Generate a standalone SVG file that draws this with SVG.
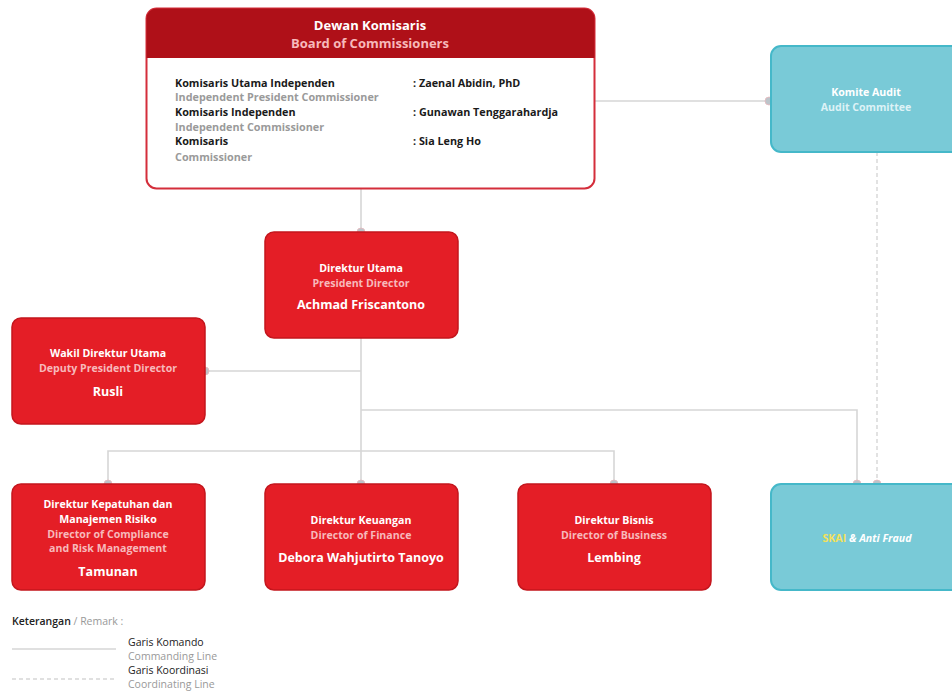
<svg xmlns="http://www.w3.org/2000/svg" width="952" height="694" viewBox="0 0 952 694">
<style>
text{font-family:"Open Sans","Liberation Sans",sans-serif;font-weight:bold}
.red{fill:#E41E26;stroke:#C4161D;stroke-width:1.5}
.cyan{fill:#79CAD7;stroke:#45B8C9;stroke-width:2}
.w{fill:#FFFFFF;font-size:10.6px;text-anchor:middle}
.p{fill:#F7B9BB;font-size:10.6px;text-anchor:middle}
.n{fill:#FFFFFF;font-size:12.5px;text-anchor:middle}
.k{fill:#1A1A1A;font-size:10.8px}
.g{fill:#9A9A9A;font-size:10.8px}
.ln{stroke:#D6D6D6;stroke-width:1.6;fill:none}
.dl{stroke:#D6D6D6;stroke-width:1.4;fill:none;stroke-dasharray:4 3}
.dot{fill:#BCC4CA;stroke:#E8B9BE;stroke-width:0.8}
.lg{font-weight:normal;font-size:10.5px}
</style>
<rect width="952" height="694" fill="#FFFFFF"/>
<g id="connectors">
<line class="ln" x1="361" y1="189" x2="361" y2="232"/>
<line class="ln" x1="595" y1="101" x2="770" y2="101"/>
<line class="ln" x1="361" y1="338" x2="361" y2="451"/>
<line class="ln" x1="205" y1="371" x2="361" y2="371"/>
<polyline class="ln" points="361,410 857,410 857,484"/>
<polyline class="ln" points="108,484 108,451 614,451 614,484"/>
<line class="ln" x1="361" y1="451" x2="361" y2="484"/>
<line class="dl" x1="877" y1="152" x2="877" y2="484"/>
<circle class="dot" cx="361" cy="232" r="4"/>
<circle class="dot" cx="769" cy="101" r="4"/>
<circle class="dot" cx="205" cy="371" r="4"/>
<circle class="dot" cx="108" cy="484" r="4"/>
<circle class="dot" cx="361" cy="484" r="4"/>
<circle class="dot" cx="614" cy="484" r="4"/>
<circle class="dot" cx="857" cy="484" r="4"/>
<circle class="dot" cx="877" cy="484" r="4"/>
</g>
<g id="board">
<rect x="146.5" y="8.5" width="448" height="180" rx="10" fill="#FFFFFF" stroke="#D42E3B" stroke-width="2"/>
<path d="M146.5,58 V18.5 A10,10 0 0 1 156.5,8.5 H584.5 A10,10 0 0 1 594.5,18.5 V58 Z" fill="#AF1018"/>
<text class="w" x="370" y="30" style="font-size:13px">Dewan Komisaris</text>
<text class="p" x="370" y="48" style="font-size:13px">Board of Commissioners</text>
<text class="k" x="175" y="87">Komisaris Utama Independen</text>
<text class="g" x="175" y="101">Independent President Commissioner</text>
<text class="k" x="175" y="116">Komisaris Independen</text>
<text class="g" x="175" y="131">Independent Commissioner</text>
<text class="k" x="175" y="145">Komisaris</text>
<text class="g" x="175" y="161">Commissioner</text>
<text class="k" x="413" y="87">: Zaenal Abidin, PhD</text>
<text class="k" x="413" y="116">: Gunawan Tenggarahardja</text>
<text class="k" x="413" y="145">: Sia Leng Ho</text>
</g>
<g id="audit">
<rect class="cyan" x="771" y="46" width="195" height="106" rx="10"/>
<text class="w" x="866" y="96">Komite Audit</text>
<text class="w" x="866" y="111" style="fill:#DDF2F6">Audit Committee</text>
</g>
<g id="dirut">
<rect class="red" x="265" y="232" width="193" height="106" rx="9"/>
<text class="w" x="361" y="272">Direktur Utama</text>
<text class="p" x="361" y="287">President Director</text>
<text class="n" x="361" y="309">Achmad Friscantono</text>
</g>
<g id="wadirut">
<rect class="red" x="12" y="318" width="193" height="106" rx="9"/>
<text class="w" x="108" y="357">Wakil Direktur Utama</text>
<text class="p" x="108" y="372">Deputy President Director</text>
<text class="n" x="108" y="396">Rusli</text>
</g>
<g id="kepatuhan">
<rect class="red" x="12" y="484" width="193" height="106" rx="9"/>
<text class="w" x="108" y="508">Direktur Kepatuhan dan</text>
<text class="w" x="108" y="523">Manajemen Risiko</text>
<text class="p" x="108" y="538">Director of Compliance</text>
<text class="p" x="108" y="552">and Risk Management</text>
<text class="n" x="108" y="576">Tamunan</text>
</g>
<g id="keuangan">
<rect class="red" x="265" y="484" width="193" height="106" rx="9"/>
<text class="w" x="361" y="524">Direktur Keuangan</text>
<text class="p" x="361" y="539">Director of Finance</text>
<text class="n" x="361" y="562">Debora Wahjutirto Tanoyo</text>
</g>
<g id="bisnis">
<rect class="red" x="518" y="484" width="193" height="106" rx="9"/>
<text class="w" x="614" y="524">Direktur Bisnis</text>
<text class="p" x="614" y="539">Director of Business</text>
<text class="n" x="614" y="562">Lembing</text>
</g>
<g id="skai">
<rect class="cyan" x="771" y="484" width="195" height="106" rx="10"/>
<text x="867" y="542" font-size="10.6" text-anchor="middle"><tspan fill="#F3E15A">SKAI</tspan><tspan fill="#FFFFFF" font-style="italic"> &amp; Anti Fraud</tspan></text>
</g>
<g id="legend">
<text x="12" y="625" class="lg"><tspan fill="#222" font-weight="600">Keterangan</tspan><tspan fill="#999"> / Remark :</tspan></text>
<line class="ln" x1="12" y1="649" x2="116" y2="649"/>
<line class="dl" x1="12" y1="679" x2="116" y2="679"/>
<text class="lg" x="128" y="646" fill="#222">Garis Komando</text>
<text class="lg" x="128" y="660" fill="#999">Commanding Line</text>
<text class="lg" x="128" y="674" fill="#222">Garis Koordinasi</text>
<text class="lg" x="128" y="688" fill="#999">Coordinating Line</text>
</g>
</svg>
